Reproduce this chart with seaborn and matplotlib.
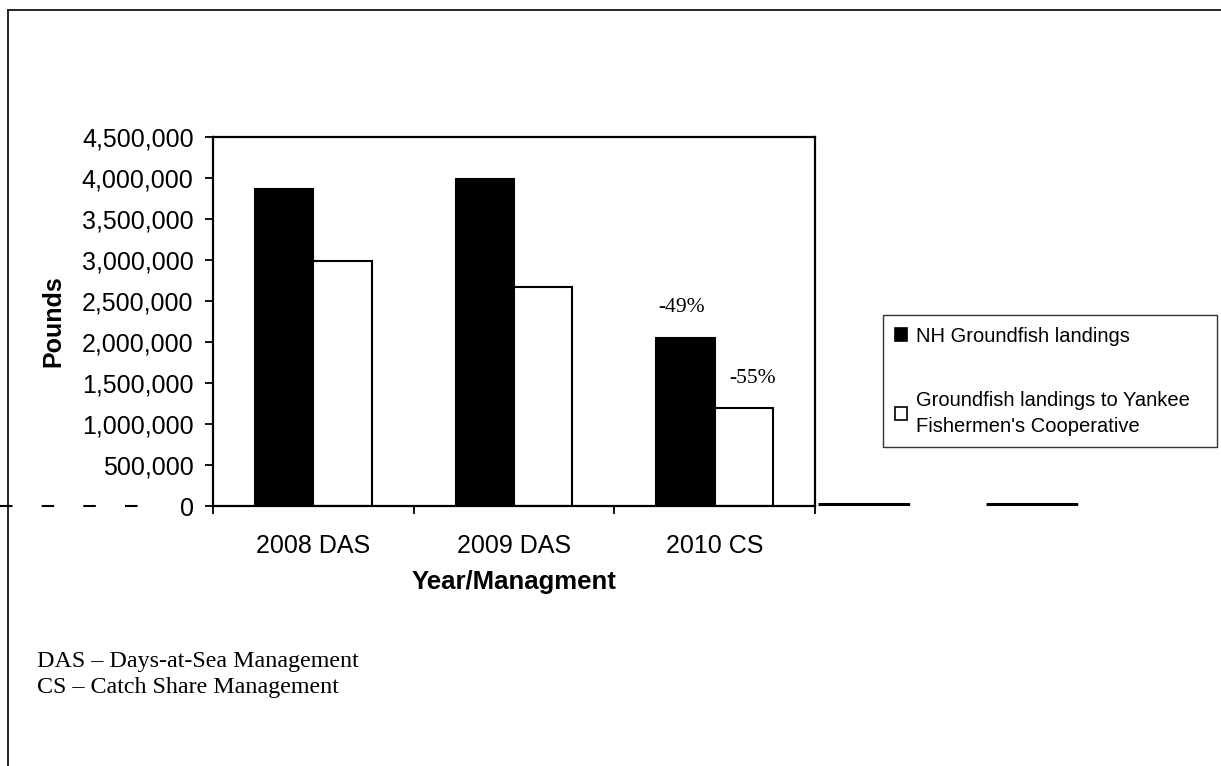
import matplotlib
matplotlib.use("Agg")
import matplotlib.pyplot as plt
import seaborn as sns
import pandas as pd
from matplotlib.lines import Line2D
from matplotlib.ticker import FuncFormatter, MultipleLocator, FixedLocator

# ---- data ----
categories = ["2008 DAS", "2009 DAS", "2010 CS"]
series_names = ["NH Groundfish landings",
                "Groundfish landings to Yankee\nFishermen's Cooperative"]
nh_landings = [3860000, 3990000, 2050000]
yankee_landings = [2990000, 2670000, 1200000]
pct_labels = ["-49%", "-55%"]
footnotes = ["DAS \u2013 Days-at-Sea Management", "CS \u2013 Catch Share Management"]

df = pd.DataFrame({
    "Year": categories * 2,
    "Series": [series_names[0]] * 3 + [series_names[1]] * 3,
    "Pounds": nh_landings + yankee_landings,
})

sns.set_theme(style="white")
plt.rcParams["font.family"] = ["Liberation Sans", "DejaVu Sans"]
plt.rcParams["text.color"] = "black"
plt.rcParams["axes.labelcolor"] = "black"
plt.rcParams["xtick.color"] = "black"
plt.rcParams["ytick.color"] = "black"

fig = plt.figure(figsize=(12.21, 7.66), dpi=100)
fig.patch.set_facecolor("white")
ax = fig.add_axes([213 / 1221, 260 / 766, 602 / 1221, 369 / 766])

sns.barplot(data=df, x="Year", y="Pounds", hue="Series",
            palette=["black", "white"], width=0.58, edgecolor="black",
            linewidth=1.5, ax=ax, saturation=1)

ax.set_xlim(-0.5, 2.5)
ax.set_ylim(0, 4500000)
ax.yaxis.set_major_locator(MultipleLocator(500000))
ax.yaxis.set_major_formatter(FuncFormatter(lambda v, p: f"{int(v):,}"))
ax.tick_params(axis="y", which="major", direction="out", length=6, width=1.3,
               color="black", labelcolor="black", labelsize=18, pad=8, left=True)
ax.set_xticks(range(len(categories)))
ax.set_xticklabels(categories)
ax.xaxis.set_minor_locator(FixedLocator([-0.5, 0.5, 1.5, 2.5]))
ax.tick_params(axis="x", which="major", length=0, labelsize=18, pad=20,
               labelcolor="black")
ax.tick_params(axis="x", which="minor", direction="out", length=6, width=1.3,
               color="black", bottom=True)
for s in ax.spines.values():
    s.set_visible(True)
    s.set_color("black")
    s.set_linewidth(1.6)

ax.set_ylabel("Pounds", fontsize=18, fontweight="bold", labelpad=12, color="black")
ax.set_xlabel("Year/Managment", fontsize=18.5, fontweight="bold", labelpad=9,
              color="black")

# percentage annotations over 2010 bars
containers = ax.containers
ax.annotate(pct_labels[0], xy=(containers[0][2].get_x() + containers[0][2].get_width() / 2,
                               nh_landings[2]),
            xytext=(-4, 30), textcoords="offset pixels", ha="center", va="center",
            fontsize=15.5, family=["Liberation Serif"], color="black")
ax.annotate(pct_labels[1], xy=(containers[1][2].get_x() + containers[1][2].get_width() / 2,
                               yankee_landings[2]),
            xytext=(9, 29), textcoords="offset pixels", ha="center", va="center",
            fontsize=15.5, family=["Liberation Serif"], color="black")

# legend
handles, labels = ax.get_legend_handles_labels()
if ax.get_legend() is not None:
    ax.get_legend().remove()
leg = fig.legend(handles, labels, loc="upper left",
                 bbox_to_anchor=(883 / 1221, 1 - 315 / 766 - 0.01,
                                 (1217 - 883) / 1221, 0.01),
                 mode="expand", fontsize=14.5, frameon=True, fancybox=False,
                 edgecolor="black", labelspacing=2.25, handlelength=0.6,
                 handleheight=0.6, handletextpad=0.45, borderpad=0.58,
                 borderaxespad=0)
leg.get_frame().set_linewidth(1.0)
for h in leg.legend_handles:
    h.set_edgecolor("black")
    h.set_linewidth(1.2)
for t in leg.get_texts():
    t.set_color("black")
    t.set_linespacing(1.45)

# footnotes
fig.text(37 / 1221, 1 - 662 / 766, footnotes[0], fontsize=17.3,
         family=["Liberation Serif"], va="center", ha="left", color="black")
fig.text(37 / 1221, 1 - 688 / 766, footnotes[1], fontsize=17.3,
         family=["Liberation Serif"], va="center", ha="left", color="black")

# page frame (scanned page border)
fig.add_artist(Line2D([8 / 1221, 1.0], [1 - 10 / 766, 1 - 10 / 766],
                      transform=fig.transFigure, color="black", lw=1.2))
fig.add_artist(Line2D([8 / 1221, 8 / 1221], [0, 1 - 10 / 766],
                      transform=fig.transFigure, color="black", lw=1.2))
# faint scan line along the zero level outside the plot
zero_y = 1 - 506 / 766
fig.add_artist(Line2D([0.0, 150 / 1221], [zero_y, zero_y], transform=fig.transFigure,
                      color="black", lw=1.5, dashes=(6, 14)))
fig.add_artist(Line2D([818 / 1221, 1100 / 1221], [zero_y + 0.003, zero_y + 0.003],
                      transform=fig.transFigure, color="black", lw=2.2, dashes=(30, 25)))

fig.savefig("out.png", dpi=100, facecolor="white")
